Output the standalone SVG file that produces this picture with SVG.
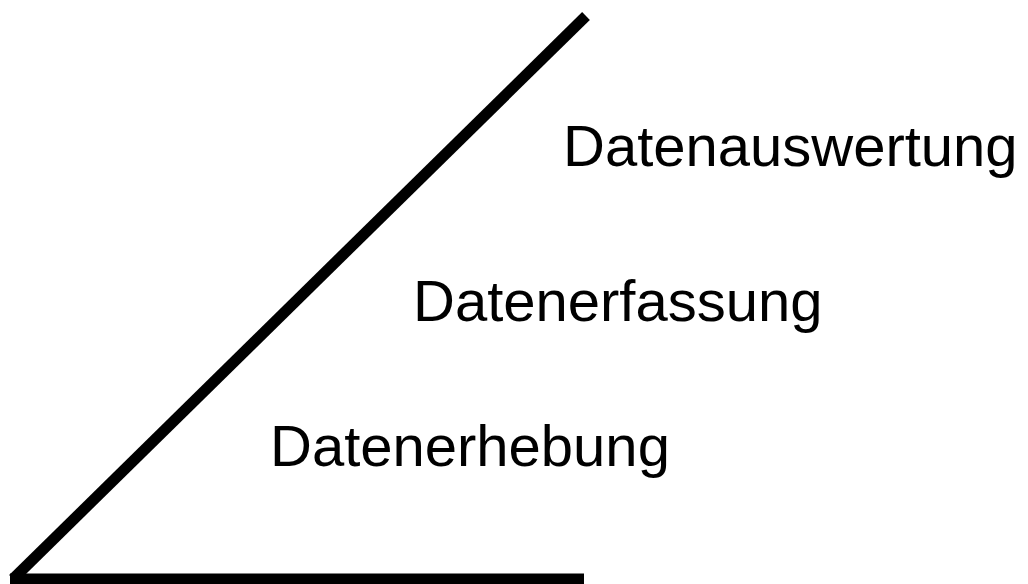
<svg xmlns="http://www.w3.org/2000/svg" width="1028" height="584" viewBox="0 0 1028 584">
<style>
.lbl{font-family:"Liberation Sans",Arial,sans-serif;font-size:58px;fill:#000}
.ln{stroke:#000;stroke-width:11;fill:none;stroke-linecap:butt}
</style>
<rect width="1028" height="584" fill="#fff"/>
<g id="connectors">
<line class="ln" x1="10" y1="579" x2="584" y2="579"/>
<line class="ln" x1="586" y1="16" x2="13" y2="579"/>
</g>
<g id="node-auswertung"><text class="lbl" x="563" y="166">Datenauswertung</text></g>
<g id="node-erfassung"><text class="lbl" x="413" y="321">Datenerfassung</text></g>
<g id="node-erhebung"><text class="lbl" x="270" y="466">Datenerhebung</text></g>
</svg>
